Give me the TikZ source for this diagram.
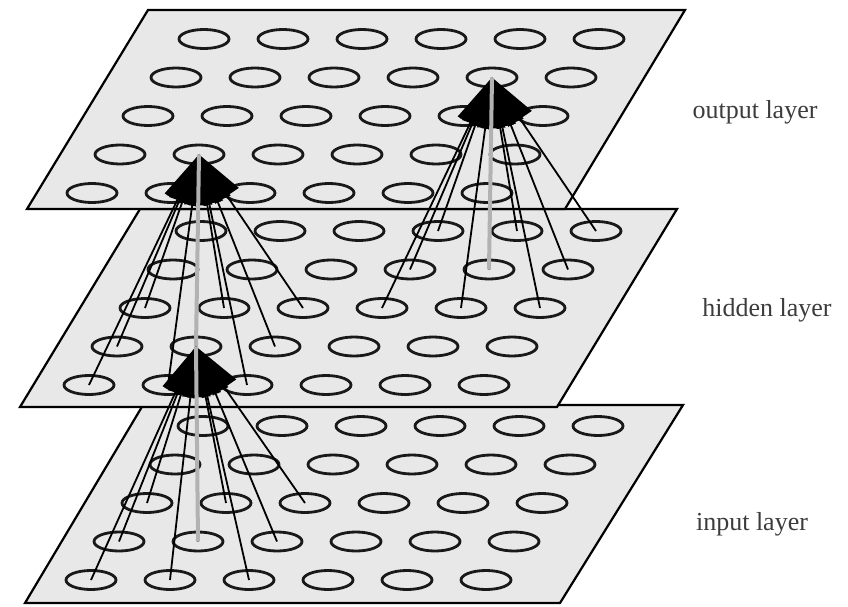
\documentclass[tikz,border=0pt]{standalone}
\usepackage{fontspec}
\setmainfont{Liberation Serif}
\usetikzlibrary{arrows.meta,shapes.geometric}
\definecolor{planegray}{RGB}{232,232,232}
\definecolor{labelgray}{RGB}{60,60,60}
\tikzstyle{sheet} = [draw=black, line width=2.2pt, fill=planegray, line join=miter]
\tikzstyle{unit} = [ellipse, draw=black!90, line width=2.8pt, fill=planegray,
  minimum width=50pt, minimum height=19pt, inner sep=0pt]
\tikzstyle{link} = [line width=1.8pt, -{Triangle[length=50pt,width=28pt]}]
\tikzstyle{corelink} = [line width=4pt, draw=gray!60]
\tikzstyle{caption} = [font=\fontsize{26}{30}\selectfont, text=labelgray]

\begin{document}
\begin{tikzpicture}[x=1pt, y=-1pt]
  \useasboundingbox (0,0) rectangle (848,607);

  % the three layers, bottom to top
  \draw[sheet] (25,603) -- (560,603) -- (683,405) -- (143,405) -- cycle;
  \draw[sheet] (20,407) -- (557,407) -- (677,209) -- (140,209) -- cycle;
  \draw[sheet] (27,209) -- (565,209) -- (685,10) -- (148,10) -- cycle;

  % 5 x 6 units on every layer
  \foreach \lay/\ox/\oy in {inp/147/503, hid/145/308, out/148/116}
    \foreach \r in {0,...,4}
      \foreach \c in {0,...,5}
        \node[unit] (\lay-\r-\c) at ({\ox+79*\c-28*(\r-2)}, {\oy+38.5*(\r-2)}) {};

  % input -> hidden
  \foreach \r in {2,3,4}
    \foreach \c in {0,1,2}
      \draw[link] (inp-\r-\c.center) -- (hid-3-1.center);
  \draw[corelink] (inp-3-1.center) -- (hid-3-1.center);

  % hidden -> output
  \foreach \r in {2,3,4}
    \foreach \c in {0,1,2}
      \draw[link] (hid-\r-\c.center) -- (out-3-1.center);
  \draw[corelink] (hid-3-1.center) -- (out-3-1.center);

  \foreach \r in {0,1,2}
    \foreach \c in {3,4,5}
      \draw[link] (hid-\r-\c.center) -- (out-1-4.center);
  \draw[corelink] (hid-1-4.center) -- (out-1-4.center);

  \node[caption] (outcap) at (755,112) {output layer};
  \node[caption] (hidcap) at (767,310) {hidden layer};
  \node[caption] (inpcap) at (752,524) {input layer};
\end{tikzpicture}
\end{document}
